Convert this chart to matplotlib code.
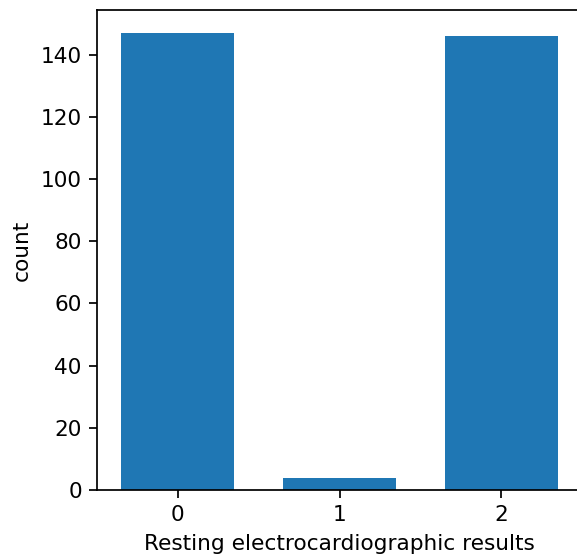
import matplotlib
matplotlib.use("Agg")
import matplotlib.pyplot as plt

categories = ["0", "1", "2"]
counts = [147, 4, 146]

dpi = 156
fig = plt.figure(figsize=(577 / dpi, 556 / dpi), dpi=dpi)
ax = fig.add_axes([97 / 577, 66 / 556, 485 / 577, 480 / 556])

ax.bar(range(len(categories)), counts, width=0.7, color="#1f77b4")
ax.set_xticks(range(len(categories)))
ax.set_xticklabels(categories)
ax.set_xlim(-0.5, len(categories) - 0.5)
ax.set_ylim(0, max(counts) * 1.05)
ax.set_xlabel("Resting electrocardiographic results")
ax.set_ylabel("count")
# the reference is cropped just before the right frame line
ax.spines["right"].set_visible(False)

fig.savefig("out.png", dpi=dpi)
